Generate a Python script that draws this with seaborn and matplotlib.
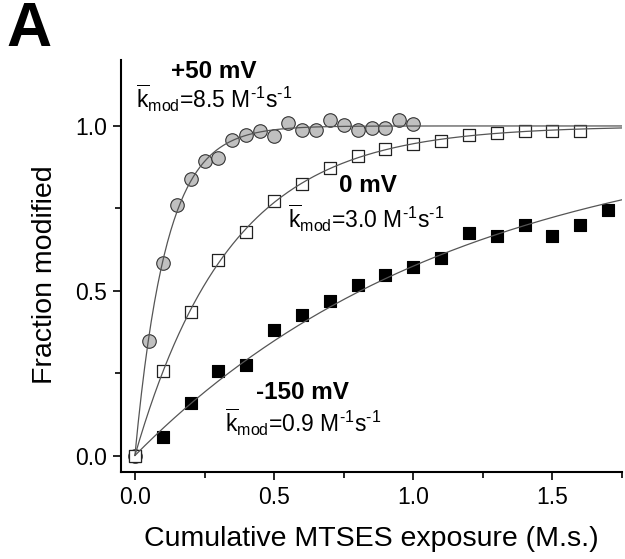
import numpy as np
import pandas as pd
import matplotlib
matplotlib.use("Agg")
import matplotlib.pyplot as plt
import seaborn as sns
from matplotlib.ticker import MultipleLocator

# -------------------------
# Data
# -------------------------
x_pos50 = [0.0, 0.05, 0.1, 0.15, 0.2, 0.25, 0.3, 0.35, 0.4, 0.45, 0.5,
           0.55, 0.6, 0.65, 0.7, 0.75, 0.8, 0.85, 0.9, 0.95, 1.0]
y_pos50 = [0.0, 0.348, 0.583, 0.76, 0.84, 0.894, 0.904, 0.957, 0.972, 0.985, 0.969,
           1.01, 0.988, 0.988, 1.017, 1.002, 0.987, 0.995, 0.995, 1.018, 1.005]

x_0mv = [0.0, 0.1, 0.2, 0.3, 0.4, 0.5, 0.6, 0.7, 0.8, 0.9, 1.0, 1.1, 1.2, 1.3, 1.4, 1.5, 1.6]
y_0mv = [0.0, 0.256, 0.434, 0.593, 0.679, 0.771, 0.825, 0.873, 0.910, 0.930, 0.946,
         0.953, 0.972, 0.978, 0.985, 0.985, 0.985]

x_neg150 = [0.0, 0.1, 0.2, 0.3, 0.4, 0.5, 0.6, 0.7, 0.8, 0.9, 1.0, 1.1, 1.2, 1.3, 1.4, 1.5, 1.6, 1.7]
y_neg150 = [0.0, 0.056, 0.16, 0.256, 0.275, 0.381, 0.426, 0.468, 0.518, 0.547, 0.573,
            0.599, 0.675, 0.665, 0.70, 0.667, 0.70, 0.745]

labels = ["+50 mV", "0 mV", "-150 mV"]
k_labels = ["8.5", "3.0", "0.9"]


def fit_rate(x, y):
    # single exponential 1 - exp(-k x), least squares over a grid of k
    x = np.asarray(x)
    y = np.asarray(y)
    ks = np.arange(0.05, 20, 0.005)
    sse = [np.sum((y - (1 - np.exp(-k * x))) ** 2) for k in ks]
    return ks[int(np.argmin(sse))]


def k_text(val):
    return (r"$\overline{\mathrm{k}}_{\mathrm{mod}}$=" + val +
            r" M$^{\text{-1}}$s$^{\text{-1}}$")


# -------------------------
# Style
# -------------------------
sns.set_style("ticks", {"axes.edgecolor": "black", "text.color": "black",
                        "xtick.color": "black", "ytick.color": "black",
                        "axes.labelcolor": "black"})
plt.rcParams["font.family"] = ["Liberation Sans", "DejaVu Sans"]
plt.rcParams["mathtext.fontset"] = "custom"
plt.rcParams["mathtext.rm"] = "Liberation Sans"
plt.rcParams["mathtext.it"] = "Liberation Sans"
plt.rcParams["mathtext.bf"] = "Liberation Sans:bold"

fig = plt.figure(figsize=(6.25, 5.59), dpi=100)
ax = fig.add_axes([0.1936, 0.1556, 0.8016, 0.737])

x_fit = np.linspace(0, 1.75, 300)
series = [(x_pos50, y_pos50), (x_0mv, y_0mv), (x_neg150, y_neg150)]
for x, y in series:
    k = fit_rate(x, y)
    fit_df = pd.DataFrame({"x": x_fit, "y": 1 - np.exp(-k * x_fit)})
    sns.lineplot(data=fit_df, x="x", y="y", ax=ax, color="#555555",
                 linewidth=0.9, zorder=4)

# markers: filled squares, grey circles, open squares
sns.scatterplot(x=x_neg150, y=y_neg150, ax=ax, marker="s", s=68,
                color="black", edgecolor="black", linewidth=0.8, zorder=2)
sns.scatterplot(x=x_pos50, y=y_pos50, ax=ax, marker="o", s=95,
                color="#c0c0c0", edgecolor="#333333", linewidth=0.8, zorder=2)
sns.scatterplot(x=x_0mv, y=y_0mv, ax=ax, marker="s", s=68,
                color="white", edgecolor="#222222", linewidth=0.9, zorder=3)

ax.set_xlim(-0.05, 1.75)
ax.set_ylim(-0.05, 1.2)
ax.xaxis.set_major_locator(MultipleLocator(0.5))
ax.xaxis.set_minor_locator(MultipleLocator(0.25))
ax.yaxis.set_major_locator(MultipleLocator(0.5))
ax.yaxis.set_minor_locator(MultipleLocator(0.25))
ax.tick_params(which="major", direction="out", length=6, width=1.2,
               labelsize=16.5, pad=4)
ax.tick_params(which="minor", direction="out", length=4, width=1.2)
sns.despine(ax=ax)
for side in ["left", "bottom"]:
    ax.spines[side].set_linewidth(1.5)

ax.set_xlabel("Cumulative MTSES exposure (M.s.)", fontsize=20.5, labelpad=12)
ax.set_ylabel("Fraction modified", fontsize=20.5)
ax.yaxis.set_label_coords(-0.125, 0.48)

# annotations
ax.text(0.284, 1.164, labels[0], fontsize=17.5, fontweight="bold",
        ha="center", va="center")
ax.text(0.004, 1.055, k_text(k_labels[0]), fontsize=16.5, ha="left", va="baseline")
ax.text(0.838, 0.818, labels[1], fontsize=17.5, fontweight="bold",
        ha="center", va="center")
ax.text(0.55, 0.691, k_text(k_labels[1]), fontsize=16.5, ha="left", va="baseline")
ax.text(0.601, 0.191, labels[2], fontsize=17.5, fontweight="bold",
        ha="center", va="center")
ax.text(0.324, 0.07, k_text(k_labels[2]), fontsize=16.5, ha="left", va="baseline")

fig.text(0.0464, 0.948, "A", fontsize=45, fontweight="bold", ha="center", va="center")

fig.savefig("out.png", dpi=100)
